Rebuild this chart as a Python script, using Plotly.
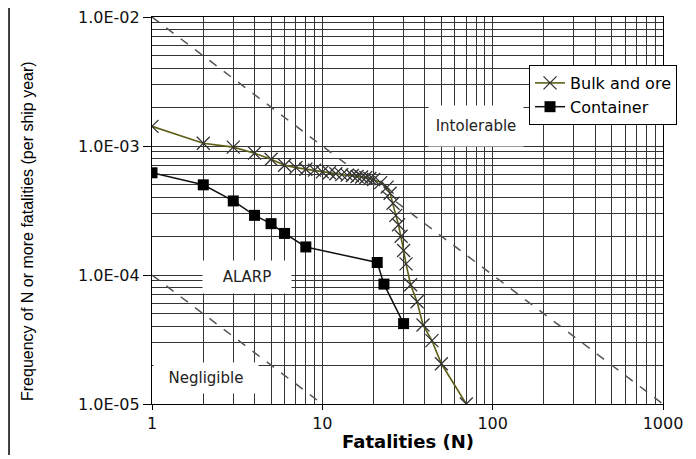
import math
import plotly.graph_objects as go

# ---- data ----
bulk_n = [1, 2, 3, 4, 5, 6, 7, 8, 9, 10, 11, 12, 13, 14, 15, 16, 17, 18, 19, 20,
          22, 24, 25, 26, 27, 28, 29, 30, 31, 33, 36, 39, 44, 50, 70]
bulk_f = [1.42e-3, 1.05e-3, 9.8e-4, 8.8e-4, 7.9e-4, 7.1e-4, 6.8e-4, 6.6e-4, 6.5e-4, 6.3e-4,
          6.2e-4, 6.1e-4, 6.0e-4, 5.95e-4, 5.9e-4, 5.8e-4, 5.75e-4, 5.7e-4, 5.6e-4, 5.5e-4,
          5.2e-4, 4.8e-4, 4.3e-4, 3.6e-4, 2.9e-4, 2.45e-4, 2.0e-4, 1.55e-4, 1.22e-4,
          8.4e-5, 6.2e-5, 4.1e-5, 3.1e-5, 2.05e-5, 1.0e-5]

cont_n = [1, 2, 3, 4, 5, 6, 8, 21, 23, 30]
cont_f = [6.2e-4, 5.0e-4, 3.75e-4, 2.9e-4, 2.5e-4, 2.1e-4, 1.65e-4, 1.25e-4, 8.5e-5, 4.2e-5]

upper_n = [1, 1000]
upper_f = [1e-2, 1e-5]
lower_n = [1, 10]
lower_f = [1e-4, 1e-5]

x_tickvals = [1, 10, 100, 1000]
x_ticktext = ["1", "10", "100", "1000"]
y_tickvals = [1e-5, 1e-4, 1e-3, 1e-2]
y_ticktext = ["1.0E-05", "1.0E-04", "1.0E-03", "1.0E-02"]

# region labels: (text, N, F, box width, box height)
regions = [("Intolerable", 80, 1.43e-3, 92, 38),
           ("ALARP", 3.6, 9.6e-5, 86, 30),
           ("Negligible", 2.07, 1.6e-5, 102, 28)]

x_minor = [m * 10 ** e for e in range(0, 3) for m in range(2, 10)]
y_minor = [m * 10.0 ** e for e in range(-5, -2) for m in range(2, 10)]

FONT = "DejaVu Sans, Liberation Sans, Arial, sans-serif"
GRID = "#333333"

fig = go.Figure()

fig.add_trace(go.Scatter(x=upper_n, y=upper_f, mode="lines", showlegend=False,
                         line=dict(color="#555555", width=1.5, dash="dash"), hoverinfo="skip"))
fig.add_trace(go.Scatter(x=lower_n, y=lower_f, mode="lines", showlegend=False,
                         line=dict(color="#555555", width=1.5, dash="dash"), hoverinfo="skip"))

fig.add_trace(go.Scatter(x=bulk_n, y=bulk_f, mode="lines+markers", name="Bulk and ore",
                         line=dict(color="#5f5f18", width=1.6),
                         marker=dict(symbol="x-thin", size=13,
                                     line=dict(width=1.3, color="#333333"))))
fig.add_trace(go.Scatter(x=cont_n, y=cont_f, mode="lines+markers", name="Container",
                         line=dict(color="#111111", width=1.5),
                         marker=dict(symbol="square", size=11, color="#000000")))

for text, n, f, w, h in regions:
    fig.add_annotation(x=math.log10(n), y=math.log10(f), xref="x", yref="y",
                       text=text, showarrow=False, bgcolor="white",
                       width=w, height=h, font=dict(family=FONT, size=15, color="#222"))

# axis titles
fig.add_annotation(x=-0.2446, y=0.447, xref="paper", yref="paper", textangle=-90,
                   xanchor="center", yanchor="middle",
                   text="Frequency of N or more fatalities (per ship year)", showarrow=False,
                   font=dict(family="Liberation Sans Narrow, Liberation Sans, Arial, sans-serif",
                             size=16, color="#000"))
fig.add_annotation(x=0.5, y=-0.098, xref="paper", yref="paper",
                   xanchor="center", yanchor="middle",
                   text="<b>Fatalities (N)</b>", showarrow=False,
                   font=dict(family=FONT, size=18, color="#000"))

# left border line
fig.add_shape(type="line", xref="paper", yref="paper",
              x0=-0.2798, x1=-0.2798, y0=1.023, y1=-0.132,
              line=dict(color="#000", width=1.5))

fig.update_xaxes(type="log", range=[0, 3], automargin=False,
                 tickmode="array", tickvals=x_tickvals, ticktext=x_ticktext,
                 ticks="outside", ticklen=5, tickcolor="#000",
                 ticklabeloverflow="allow",
                 showgrid=True, gridcolor=GRID, gridwidth=1.2,
                 minor=dict(tickmode="array", tickvals=x_minor, showgrid=True,
                            gridcolor=GRID, gridwidth=1.2, ticks=""),
                 showline=True, linecolor="#000", linewidth=1.2, mirror=True,
                 zeroline=False,
                 tickfont=dict(family=FONT, size=16, color="#111"))
fig.update_yaxes(type="log", range=[-5, -2], automargin=False,
                 tickmode="array", tickvals=y_tickvals, ticktext=y_ticktext,
                 ticks="outside", ticklen=8, tickcolor="#000",
                 ticklabeloverflow="allow",
                 showgrid=True, gridcolor=GRID, gridwidth=1.2,
                 minor=dict(tickmode="array", tickvals=y_minor, showgrid=True,
                            gridcolor=GRID, gridwidth=1.2, ticks=""),
                 showline=True, linecolor="#000", linewidth=1.2, mirror=True,
                 zeroline=False,
                 tickfont=dict(family=FONT, size=16, color="#111"))

fig.update_layout(width=688, height=451, autosize=False,
                  margin=dict(l=144, r=33, t=9, b=55),
                  paper_bgcolor="white", plot_bgcolor="white",
                  legend=dict(x=0.7378, y=0.876, xanchor="left", yanchor="top",
                              bgcolor="white", bordercolor="#000", borderwidth=1,
                              font=dict(family=FONT, size=16, color="#000"),
                              tracegroupgap=0))

fig.write_html("out.html")
